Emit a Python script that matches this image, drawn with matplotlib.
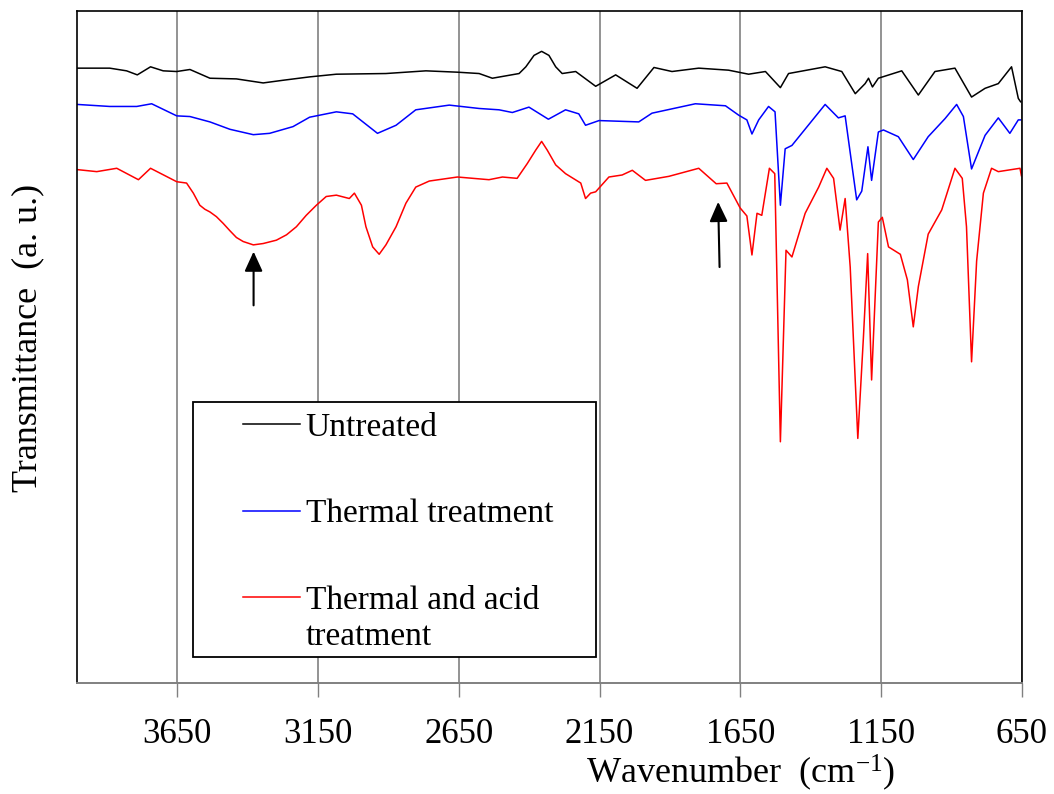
import matplotlib
matplotlib.use("Agg")
import matplotlib.pyplot as plt
from matplotlib.patches import Rectangle
from matplotlib.legend_handler import HandlerLine2D
from matplotlib.lines import Line2D

plt.rcParams['font.family'] = ['Liberation Serif', 'DejaVu Serif']
plt.rcParams['mathtext.fontset'] = 'custom'
plt.rcParams['mathtext.rm'] = 'Liberation Serif'
plt.rcParams['mathtext.it'] = 'Liberation Serif:italic'

# ---------------- data ----------------
wn_untreated = [4005, 3890, 3830, 3792, 3745, 3700, 3652, 3605, 3534, 3440, 3345, 3274,
                3180, 3085, 2909, 2767, 2655, 2578, 2531, 2436, 2412, 2383, 2356, 2330,
                2306, 2283, 2235, 2164, 2093, 2017, 1957, 1893, 1798, 1692, 1621, 1561,
                1508, 1479, 1349, 1290, 1242, 1207, 1195, 1181, 1160, 1077, 1018, 959,
                888, 829, 781, 734, 687, 663, 655]
t_untreated = [91.5, 91.5, 91.1, 90.5, 91.7, 91.1, 91.0, 91.3, 90.0, 89.9, 89.3, 89.7,
               90.2, 90.6, 90.7, 91.1, 90.9, 90.7, 90.0, 90.7, 91.7, 93.4, 94.0, 93.4,
               91.7, 90.7, 91.0, 88.8, 90.5, 88.5, 91.6, 91.0, 91.5, 91.2, 90.6, 91.0,
               88.6, 90.7, 91.7, 91.0, 87.7, 89.2, 90.0, 88.7, 90.0, 91.1, 87.5, 91.0,
               91.5, 87.2, 88.5, 89.2, 91.7, 87.0, 86.5]

wn_thermal = [4005, 3890, 3794, 3741, 3652, 3605, 3534, 3463, 3380, 3322, 3239, 3180,
              3085, 3027, 2939, 2873, 2803, 2684, 2578, 2507, 2460, 2401, 2332, 2271,
              2224, 2200, 2152, 2011, 1964, 1810, 1703, 1656, 1627, 1609, 1585, 1550,
              1527, 1508, 1491, 1467, 1349, 1302, 1278, 1237, 1219, 1197, 1184, 1160,
              1142, 1089, 1036, 983, 923, 882, 858, 829, 781, 734, 693, 663, 655]
t_thermal = [86.1, 85.8, 85.8, 86.2, 84.4, 84.3, 83.5, 82.4, 81.6, 81.8, 82.8, 84.2,
             85.0, 84.7, 81.8, 83.0, 85.3, 86.0, 85.5, 85.3, 84.9, 85.7, 83.9, 85.3,
             84.7, 83.0, 83.7, 83.5, 84.8, 86.2, 85.9, 84.5, 83.8, 81.7, 83.8, 85.8,
             85.0, 71.1, 79.5, 80.0, 86.1, 84.1, 84.4, 71.9, 73.2, 79.8, 74.8, 82.0,
             82.3, 81.3, 77.9, 81.3, 84.0, 86.1, 84.3, 76.5, 81.5, 84.1, 81.8, 83.8, 83.8]

wn_acid = [4005, 3936, 3865, 3788, 3745, 3652, 3617, 3593, 3570, 3552, 3534, 3511,
           3487, 3463, 3440, 3416, 3380, 3345, 3298, 3262, 3227, 3192, 3156, 3121,
           3085, 3039, 3021, 2996, 2980, 2956, 2933, 2909, 2873, 2838, 2803, 2755,
           2655, 2543, 2495, 2443, 2407, 2377, 2356, 2336, 2306, 2271, 2217, 2200,
           2182, 2164, 2117, 2070, 2034, 1987, 1904, 1798, 1736, 1698, 1651, 1627,
           1609, 1591, 1574, 1547, 1528, 1508, 1488, 1467, 1420, 1372, 1343, 1319,
           1296, 1278, 1260, 1233, 1213, 1198, 1184, 1160, 1146, 1124, 1082, 1057,
           1036, 1018, 983, 935, 888, 862, 847, 829, 811, 787, 758, 734, 657, 652]
t_acid = [76.4, 76.1, 76.6, 74.9, 76.6, 74.6, 74.4, 72.9, 71.1, 70.5, 70.1, 69.4,
          68.4, 67.3, 66.3, 65.7, 65.2, 65.4, 65.9, 66.7, 67.9, 69.6, 71.1, 72.4,
          72.6, 72.1, 72.9, 71.1, 67.9, 64.9, 63.8, 65.2, 67.9, 71.4, 73.8, 74.7,
          75.3, 74.9, 75.3, 75.1, 77.3, 79.3, 80.6, 79.3, 77.1, 75.8, 74.4, 72.1,
          72.9, 73.1, 75.3, 75.6, 76.3, 74.8, 75.4, 76.6, 74.3, 74.4, 70.7, 69.5,
          63.7, 69.9, 69.6, 76.6, 75.8, 35.9, 64.4, 63.4, 69.9, 73.8, 76.6, 75.1,
          67.4, 72.1, 61.9, 36.4, 51.5, 63.9, 45.1, 68.6, 69.3, 64.9, 63.8, 60.0,
          53.0, 59.0, 66.8, 70.4, 76.6, 75.1, 67.9, 47.8, 62.8, 72.9, 76.6, 76.1,
          76.6, 75.5]

series_labels = ['Untreated', 'Thermal treatment', 'Thermal and acid\ntreatment']
series_colors = ['black', '#0000ff', '#ff0000']
tick_values = [3650, 3150, 2650, 2150, 1650, 1150, 650]

# arrows: (wavenumber tip, T tip, wavenumber base, T base)
arrow_tips = [(3379, 64.2, 3379, 56.2), (1729, 71.6, 1724, 61.9)]


class TopAlignedLine(HandlerLine2D):
    """Legend handle placed level with the first line of a two-line label."""
    def create_artists(self, legend, orig_handle, xdescent, ydescent, width,
                       height, fontsize, trans):
        arts = super().create_artists(legend, orig_handle, xdescent, ydescent,
                                      width, height, fontsize, trans)
        for a in arts:
            if isinstance(a, Line2D):
                a.set_ydata([y + 0.66 * fontsize for y in a.get_ydata()])
        return arts


# ---------------- figure ----------------
fig = plt.figure(figsize=(10.54, 7.94), dpi=100)
ax = fig.add_axes([0.0731, 0.1398, 0.8965, 0.8463])

lines = []
for wn, t, lab, col in zip([wn_untreated, wn_thermal, wn_acid],
                           [t_untreated, t_thermal, t_acid],
                           series_labels, series_colors):
    ln, = ax.plot(wn, t, color=col, lw=1.1, label=lab)
    lines.append(ln)

ax.set_xlim(4006, 652)
ax.set_ylim(0, 100)
ax.set_xticks(tick_values)
ax.set_xticklabels([str(v) for v in tick_values])
ax.set_yticks([])
ax.xaxis.grid(True, color='#808080', lw=1.2)
ax.set_axisbelow(True)
ax.tick_params(axis='x', direction='out', length=10, width=1.0, color='#808080',
               labelsize=25, pad=15)
for side in ['top', 'right', 'left']:
    ax.spines[side].set_color('black')
    ax.spines[side].set_linewidth(1.2)
ax.spines['bottom'].set_color('#808080')
ax.spines['bottom'].set_linewidth(1.4)

for (x1, y1, x0, y0) in arrow_tips:
    ax.annotate('', xy=(x1, y1), xytext=(x0, y0),
                arrowprops=dict(arrowstyle='-|>,head_length=1.2,head_width=0.55',
                                color='black', lw=1.5, shrinkA=0, shrinkB=0))

# legend frame
ax.add_patch(Rectangle((0.1228, 0.0387), 0.4264, 0.3793, transform=ax.transAxes,
                       facecolor='white', edgecolor='black', lw=1.3, zorder=4))
leg = ax.legend(handles=lines, loc='upper left', bbox_to_anchor=(0.1757, 0.403),
                frameon=False, fontsize=24, handlelength=1.7, handletextpad=0.18,
                labelspacing=1.68, borderpad=0, borderaxespad=0,
                handler_map={lines[2]: TopAlignedLine()})
leg.set_zorder(5)
leg.get_texts()[2].set_linespacing(1.25)

fig.text(0.0266, 0.574, 'Transmittance  (a. u.)', rotation=90, ha='center', va='center',
         fontsize=26)
fig.text(0.703, 0.027, 'Wavenumber  (cm$^{-1}$)', ha='center', va='center', fontsize=26)

fig.savefig('out.png', dpi=100)
